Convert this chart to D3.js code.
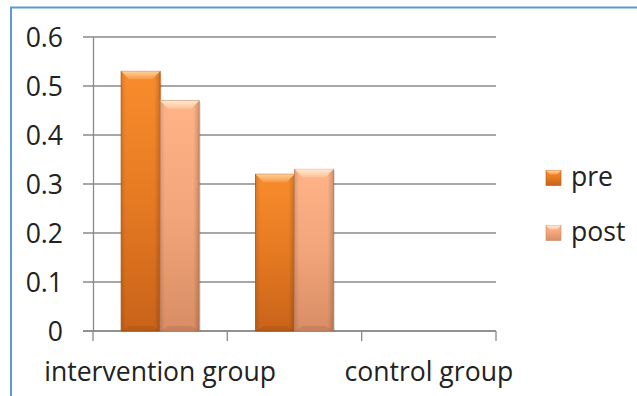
<!DOCTYPE html>
<html>
<head>
<meta charset="utf-8">
<script src="https://cdn.jsdelivr.net/npm/d3@7"></script>
<style>
html,body{margin:0;padding:0;background:#fff;}
svg{display:block;font-family:"Open Sans", Lato, sans-serif;}
</style>
</head>
<body>
<svg id="chart" width="637" height="396"></svg>
<script>
const categories = ["intervention group", "", "control group"];
const seriesNames = ["pre", "post"];
const preValues = [0.53, 0.32, null];
const postValues = [0.47, 0.33, null];
const yTicks = [0, 0.1, 0.2, 0.3, 0.4, 0.5, 0.6];

const svg = d3.select("#chart");
const W = 637, H = 396;
const m = {left: 93, right: 141, top: 37, bottom: 65};
const x0 = m.left, x1 = W - m.right, yTop = m.top, yBot = H - m.bottom;

// fit font size so the first category label spans ~232px, like the reference
const probe = svg.append("text").attr("font-size", 20).text(categories[0]);
const FS = 20 * 232 / probe.node().getComputedTextLength();
probe.remove();

const defs = svg.append("defs");
function grad(id, stops, horiz) {
  const g = defs.append("linearGradient").attr("id", id)
    .attr("x1", 0).attr("y1", 0).attr("x2", horiz ? 1 : 0).attr("y2", horiz ? 0 : 1);
  stops.forEach(s => g.append("stop").attr("offset", s[0]).attr("stop-color", s[1]).attr("stop-opacity", s[2] == null ? 1 : s[2]));
}
grad("gPre", [[0, "#f88c2c"], [0.5, "#e67a22"], [1, "#c9631a"]]);
grad("gPost", [[0, "#ffb387"], [0.5, "#f2a57a"], [1, "#d98d64"]]);
grad("gShadeH", [[0, "#000", 0.12], [0.12, "#000", 0.0], [0.85, "#000", 0.0], [1, "#000", 0.18]], true);
grad("gBevelPre", [[0, "#ffd9a8"], [1, "#f79a45"]]);
grad("gBevelPost", [[0, "#fff0d8"], [1, "#ffc39b"]]);

// border
svg.append("rect").attr("x", 11).attr("y", 7.5).attr("width", 700).attr("height", 500)
  .attr("fill", "none").attr("stroke", "#5b9bd5").attr("stroke-width", 2);

const y = d3.scaleLinear().domain([0, 0.6]).range([yBot, yTop]);
const xBand = d3.scaleBand().domain(d3.range(categories.length)).range([x0, x1]).paddingInner(0).paddingOuter(0);
const xSub = d3.scaleBand().domain(seriesNames).range([0, xBand.bandwidth()]).paddingInner(0).paddingOuter(0.72);

// gridlines
svg.append("g").selectAll("line").data(yTicks).join("line")
  .attr("x1", x0 - 10).attr("x2", x1).attr("y1", d => y(d)).attr("y2", d => y(d))
  .attr("stroke", "#8a8a8a").attr("stroke-width", 1.3);

// y axis
const yAxis = d3.axisLeft(y).tickValues(yTicks).tickSize(0).tickPadding(0)
  .tickFormat(d => d3.format("")(+d.toFixed(1)));
const gy = svg.append("g").attr("transform", `translate(${x0},0)`).call(yAxis);
gy.select(".domain").attr("stroke", "#8a8a8a").attr("stroke-width", 1.3);
gy.selectAll("text").attr("x", -30).attr("dy", "0.36em").attr("font-size", FS).attr("fill", "#222")
  .attr("font-family", "'Open Sans', sans-serif");

// x axis
const tickPositions = d3.range(categories.length + 1).map(i => x0 + i * xBand.step());
const gx = svg.append("g");
gx.append("line").attr("x1", x0 - 10).attr("x2", x1).attr("y1", yBot).attr("y2", yBot)
  .attr("stroke", "#8a8a8a").attr("stroke-width", 1.3);
gx.selectAll("line.tick").data(tickPositions).join("line").attr("class", "tick")
  .attr("x1", d => d).attr("x2", d => d).attr("y1", yBot).attr("y2", yBot + 10)
  .attr("stroke", "#8a8a8a").attr("stroke-width", 1.3);
gx.selectAll("text").data(categories).join("text")
  .attr("x", (d, i) => xBand(i) + xBand.bandwidth() / 2).attr("y", 381)
  .attr("text-anchor", "middle").attr("font-size", FS).attr("fill", "#222").text(d => d);

// bars
const data = [];
categories.forEach((c, i) => {
  [[preValues, "pre"], [postValues, "post"]].forEach(([arr, s]) => {
    if (arr[i] != null) data.push({i, s, v: arr[i]});
  });
});
const bars = svg.append("g").selectAll("g").data(data).join("g")
  .attr("transform", d => `translate(${xBand(d.i) + xSub(d.s)},${y(d.v)})`);
bars.each(function(d) {
  const g = d3.select(this);
  const w = xSub.bandwidth(), h = yBot - y(d.v);
  g.append("rect").attr("x", 1.5).attr("y", 1.5).attr("width", w).attr("height", h - 1)
    .attr("fill", "#000").attr("opacity", 0.12);
  g.append("rect").attr("width", w).attr("height", h)
    .attr("fill", d.s === "pre" ? "url(#gPre)" : "url(#gPost)")
    .attr("stroke", d.s === "pre" ? "#b65a16" : "#c98a66").attr("stroke-width", 0.8);
  g.append("rect").attr("width", w).attr("height", h).attr("fill", "url(#gShadeH)");
  const bv = 8;
  g.append("path").attr("d", `M0,0 L${w},0 L${w - bv},${bv} L${bv},${bv} Z`)
    .attr("fill", d.s === "pre" ? "url(#gBevelPre)" : "url(#gBevelPost)").attr("opacity", 0.9);
  g.append("path").attr("d", `M0,${h} L${w},${h} L${w - bv},${h - 5} L${bv},${h - 5} Z`)
    .attr("fill", "#000").attr("opacity", 0.08);
});

// legend
const leg = svg.append("g");
const legY = [178, 233];
seriesNames.forEach((s, i) => {
  const g = leg.append("g").attr("transform", `translate(546,${legY[i] - 7.5})`);
  g.append("rect").attr("width", 15).attr("height", 15)
    .attr("fill", s === "pre" ? "url(#gPre)" : "url(#gPost)")
    .attr("stroke", s === "pre" ? "#b65a16" : "#c98a66").attr("stroke-width", 0.6);
  g.append("path").attr("d", "M0,0 L15,0 L11,4 L4,4 Z")
    .attr("fill", s === "pre" ? "url(#gBevelPre)" : "url(#gBevelPost)");
  leg.append("text").attr("x", 571).attr("y", legY[i] + 8).attr("font-size", FS).attr("fill", "#222").text(s);
});
</script>
</body>
</html>
